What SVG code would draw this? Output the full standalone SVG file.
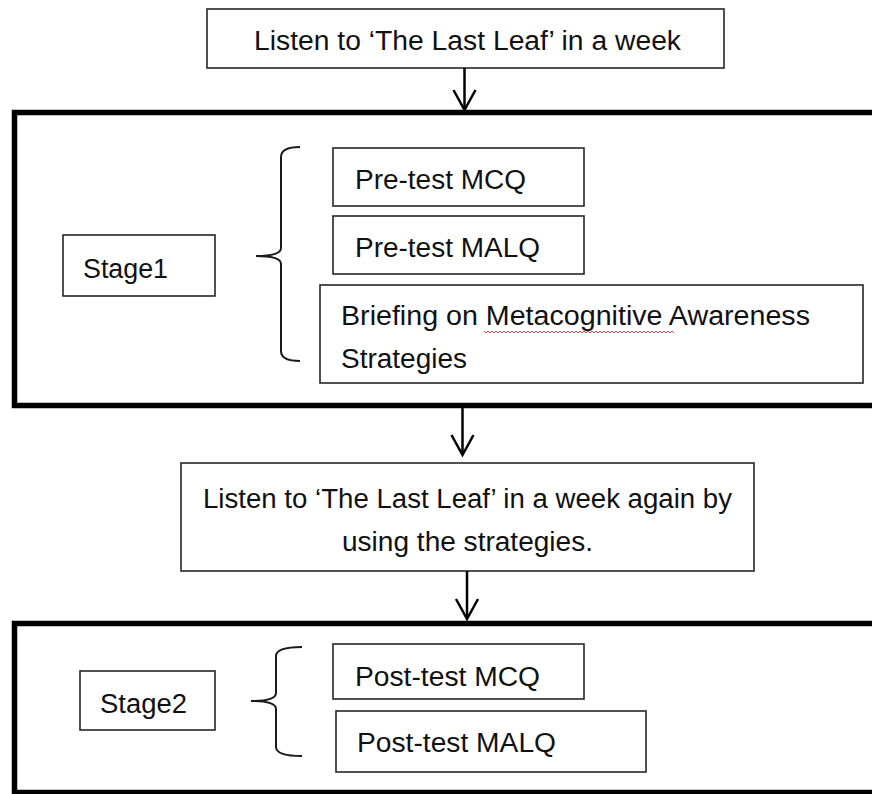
<svg xmlns="http://www.w3.org/2000/svg" width="872" height="794" viewBox="0 0 872 794">
<style>
.bg{fill:#ffffff}
.stage{fill:#ffffff;stroke:#000;stroke-width:5.5}
.box{fill:#ffffff;stroke:#262626;stroke-width:1.6}
.t{font-family:"Liberation Sans",Arial,sans-serif;font-size:27px;fill:#111}
.conn{stroke:#000;stroke-width:2.5;fill:none}
.brace{stroke:#1a1a1a;stroke-width:2;fill:none}
</style>
<defs>
<marker id="ah" markerUnits="userSpaceOnUse" orient="auto" markerWidth="30" markerHeight="30" refX="22" refY="12">
<path d="M2,1 L22,12 L2,23" fill="none" stroke="#000" stroke-width="2.5"/>
</marker>
</defs>
<rect class="bg" x="0" y="0" width="872" height="794"/>

<g id="stage1-frame"><rect class="stage" x="14.5" y="112.5" width="880" height="293"/></g>
<g id="stage2-frame"><rect class="stage" x="14.5" y="623.5" width="880" height="169"/></g>

<g id="listen1"><rect class="box" x="207" y="9" width="517" height="59"/>
<text class="t" x="254" y="50" textLength="427" lengthAdjust="spacingAndGlyphs">Listen to ‘The Last Leaf’ in a week</text></g>

<g id="stage1"><rect class="box" x="63" y="235" width="152" height="61"/>
<text class="t" x="83" y="278" textLength="85" lengthAdjust="spacingAndGlyphs">Stage1</text></g>

<g id="pretest-mcq"><rect class="box" x="333" y="148" width="251" height="58"/>
<text class="t" x="355" y="189" textLength="171" lengthAdjust="spacingAndGlyphs">Pre-test MCQ</text></g>

<g id="pretest-malq"><rect class="box" x="333" y="216" width="251" height="58"/>
<text class="t" x="355" y="257" textLength="185" lengthAdjust="spacingAndGlyphs">Pre-test MALQ</text></g>

<g id="briefing"><rect class="box" x="320" y="285" width="543" height="98"/>
<text class="t" x="341" y="325" textLength="469" lengthAdjust="spacingAndGlyphs">Briefing on Metacognitive Awareness</text>
<text class="t" x="341" y="368" textLength="126" lengthAdjust="spacingAndGlyphs">Strategies</text>
<path d="M484,331 l2,2 l2,-2 l2,2 l2,-2 l2,2 l2,-2 l2,2 l2,-2 l2,2 l2,-2 l2,2 l2,-2 l2,2 l2,-2 l2,2 l2,-2 l2,2 l2,-2 l2,2 l2,-2 l2,2 l2,-2 l2,2 l2,-2 l2,2 l2,-2 l2,2 l2,-2 l2,2 l2,-2 l2,2 l2,-2 l2,2 l2,-2 l2,2 l2,-2 l2,2 l2,-2 l2,2 l2,-2 l2,2 l2,-2 l2,2 l2,-2 l2,2 l2,-2 l2,2 l2,-2 l2,2 l2,-2 l2,2 l2,-2 l2,2 l2,-2 l2,2 l2,-2 l2,2 l2,-2 l2,2 l2,-2 l2,2 l2,-2 l2,2 l2,-2 l2,2 l2,-2 l2,2 l2,-2 l2,2 l2,-2 l2,2 l2,-2 l2,2 l2,-2 l2,2 l2,-2 l2,2 l2,-2 l2,2 l2,-2 l2,2 l2,-2 l2,2 l2,-2 l2,2 l2,-2 l2,2 l2,-2 l2,2 l2,-2 l2,2 l2,-2 l2,2 l2,-2 l2,2" fill="none" stroke="#e03030" stroke-width="0.9"/></g>

<g id="listen2"><rect class="box" x="181" y="463" width="573" height="108"/>
<text class="t" x="467.5" y="508" text-anchor="middle" textLength="529" lengthAdjust="spacingAndGlyphs">Listen to ‘The Last Leaf’ in a week again by</text>
<text class="t" x="467.5" y="551" text-anchor="middle" textLength="251" lengthAdjust="spacingAndGlyphs">using the strategies.</text></g>

<g id="stage2"><rect class="box" x="80" y="671" width="135" height="59"/>
<text class="t" x="100" y="713" textLength="87" lengthAdjust="spacingAndGlyphs">Stage2</text></g>

<g id="posttest-mcq"><rect class="box" x="333" y="644" width="251" height="55"/>
<text class="t" x="355" y="686" textLength="185" lengthAdjust="spacingAndGlyphs">Post-test MCQ</text></g>

<g id="posttest-malq"><rect class="box" x="336" y="711" width="310" height="61"/>
<text class="t" x="357" y="752" textLength="199" lengthAdjust="spacingAndGlyphs">Post-test MALQ</text></g>

<g id="connectors">
<path class="conn" d="M464.5,68 L464.5,110" marker-end="url(#ah)"/>
<path class="conn" d="M462.5,408 L462.5,455" marker-end="url(#ah)"/>
<path class="conn" d="M467,571 L467,619" marker-end="url(#ah)"/>
<path class="brace" d="M300,147 Q281,147 281,157 L281,248 Q281,256 256,256 Q281,256 281,264 L281,351 Q281,361 300,361"/>
<path class="brace" d="M302,647 Q276,647 276,656 L276,693 Q276,701 251,701 Q276,701 276,709 L276,747 Q276,756 302,756"/>
</g>
</svg>
